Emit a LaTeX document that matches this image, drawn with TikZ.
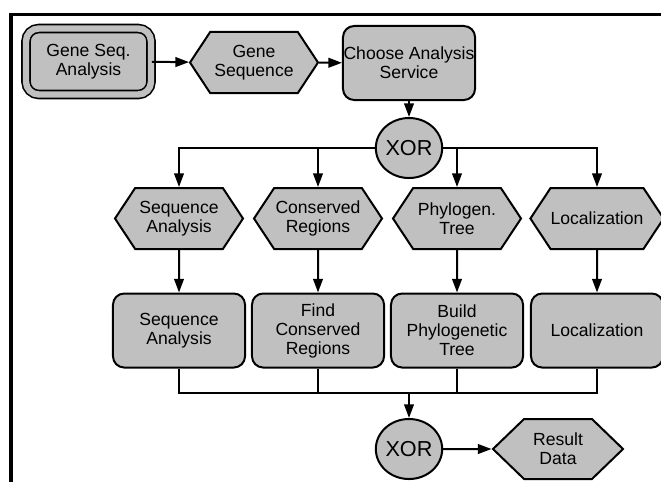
\documentclass[tikz,border=0pt]{standalone}
\usepackage{fontspec}
\setmainfont{Liberation Sans}
\usetikzlibrary{arrows.meta}
\usetikzlibrary{shapes.symbols}
\usetikzlibrary{shapes.geometric}
\definecolor{boxgray}{HTML}{C0C0C0}
\tikzset{>={Triangle[length=0.34cm,width=0.24cm]}}
\tikzset{
	proc/.style={draw, fill=boxgray, rounded corners=0.28cm, minimum width=3.3cm,
		minimum height=1.85cm, inner sep=0pt, align=center},
	data/.style={draw, fill=boxgray, shape=signal, signal to=west and east,
		signal pointer angle=113, minimum width=3.2cm, minimum height=1.525cm,
		inner sep=0pt, align=center},
	gate/.style={draw, fill=boxgray, ellipse, minimum width=1.4cm, minimum height=1.5cm,
		inner sep=0pt, font=\fontsize{15.4}{16}\selectfont}
}

\begin{document}
\begin{tikzpicture}[x=0.025cm,y=-0.025cm,line width=0.05cm,
	every node/.style={font=\fontsize{12.5}{13.5}\selectfont}]

\useasboundingbox (0,0) rectangle (661,482);

% frame
\draw[line width=0.075cm] (11,482) -- (11,14) -- (661,14);

% start service and input
\node[proc, double=boxgray, double distance=0.16cm, line width=0.04cm,
	rounded corners=0.32cm, minimum width=3.125cm, minimum height=1.65cm]
	(gsa) at (88.5,61.5) {Gene Seq.\\Analysis};
\node[data] (gseq) at (254,62.5) {Gene\\Sequence};
\node[proc] (cas) at (409,63) {Choose Analysis\\Service};

% split
\node[gate] (xor1) at (409,148) {XOR};

% data per service
\node[data] (sa) at (179,218.5) {Sequence\\Analysis};
\node[data] (cr) at (318,218.5) {Conserved\\Regions};
\node[data] (pt) at (457,218.5) {Phylogen.\\Tree};
\node[data] (loc) at (597,218.5) {Localization};

% services
\node[proc] (sab) at (179,330.5) {Sequence\\Analysis};
\node[proc] (fcr) at (318,330.5) {Find\\Conserved\\Regions};
\node[proc] (bpt) at (457,330.5) {Build\\Phylogenetic\\Tree};
\node[proc] (locb) at (597,330.5) {Localization};

% join and result
\coordinate (join) at (409,393);
\node[gate] (xor2) at (409,449) {XOR};
\node[data, signal pointer angle=88, minimum width=3.25cm, minimum height=1.5cm]
	(rd) at (558,449) {Result\\Data};

% top connectors
\draw[->] (gsa) -- (gseq);
\draw[->] (gseq) -- (cas);
\draw[->] (cas) -- (xor1);

% split connectors
\draw[->] (xor1.west) -| (sa.north);
\draw[->] (xor1.west) -| (cr.north);
\draw[->] (xor1.east) -| (pt.north);
\draw[->] (xor1.east) -| (loc.north);

% data to services
\draw[->] (sa) -- (sab);
\draw[->] (cr) -- (fcr);
\draw[->] (pt) -- (bpt);
\draw[->] (loc) -- (locb);

% join connectors
\draw (sab.south) |- (join);
\draw (fcr.south) |- (join);
\draw (bpt.south) |- (join);
\draw (locb.south) |- (join);
\draw[->] (join) -- (xor2);
\draw[->] (xor2) -- (rd);

\end{tikzpicture}
\end{document}
